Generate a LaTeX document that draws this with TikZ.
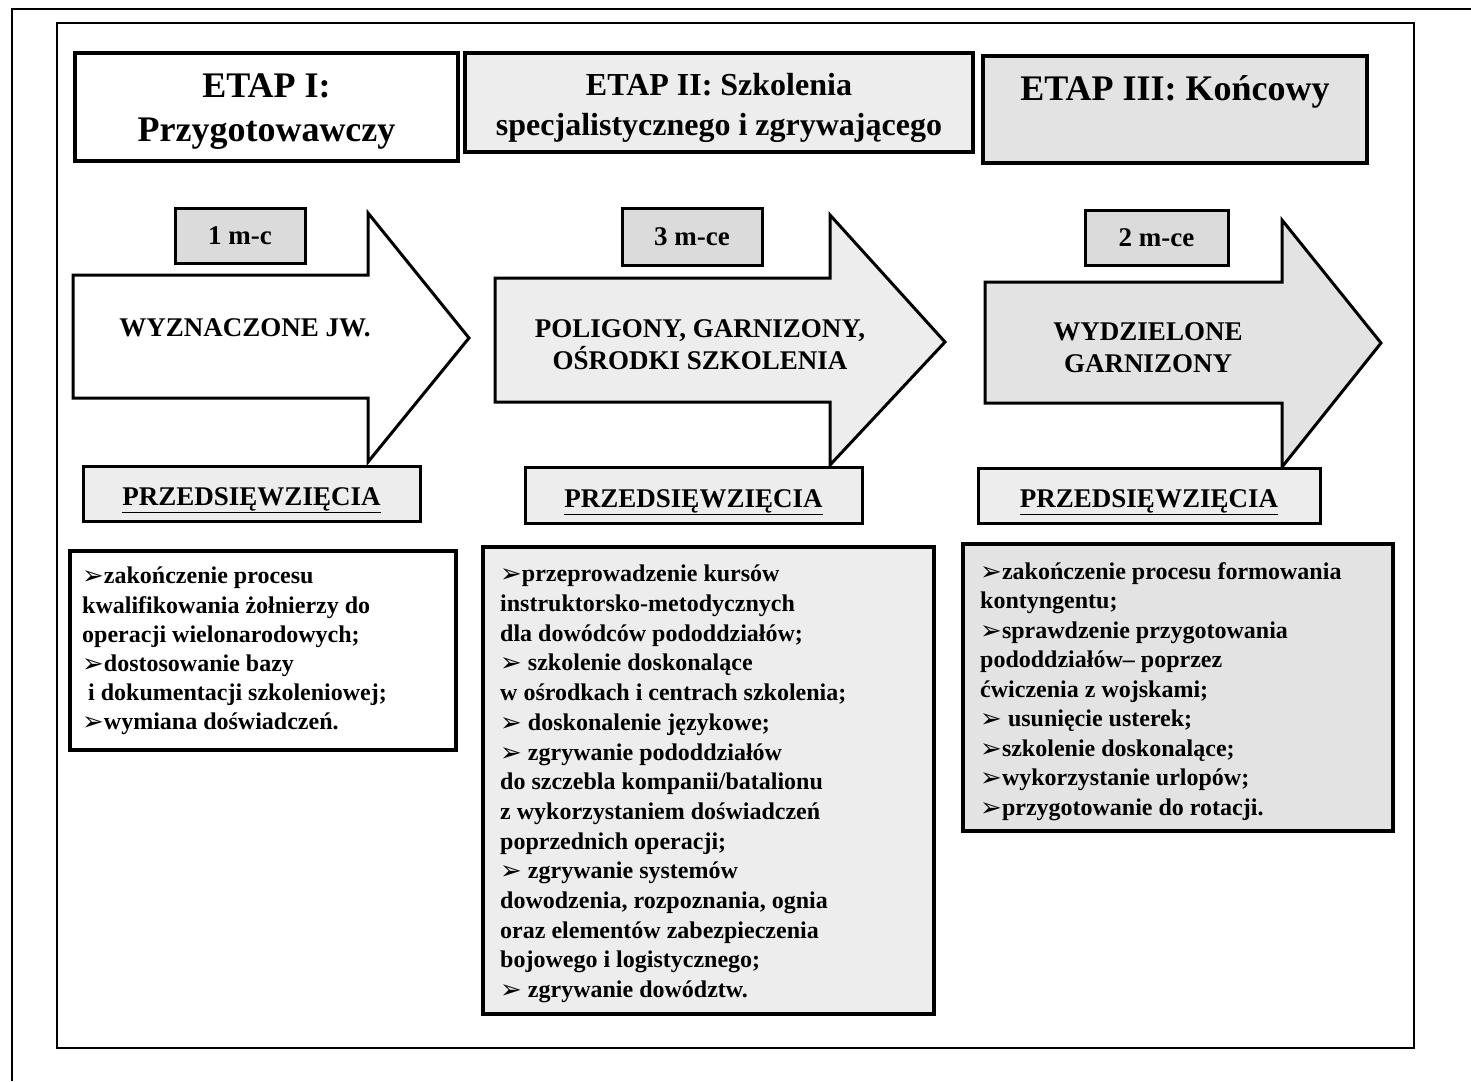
\documentclass[tikz,border=0pt]{standalone}
\usepackage{fontspec}
\setmainfont{Liberation Serif}
\newfontfamily\symfont{DejaVu Sans}
\usepackage{tikz}
\usetikzlibrary{positioning}
\definecolor{jasny}{gray}{0.93}
\definecolor{sredni}{gray}{0.89}
\definecolor{ciemny}{gray}{0.86}
\tikzset{
  etap/.style  = {rectangle, draw=black, line width=3.5pt, inner sep=0pt},
  tytul/.style = {align=center, inner sep=0pt,
                  font=\fontsize{36}{44}\selectfont\bfseries},
  czas/.style  = {rectangle, draw=black, line width=3pt, fill=ciemny,
                  font=\fontsize{27}{32}\selectfont\bfseries},
  przed/.style = {rectangle, draw=black, line width=3pt, fill=jasny,
                  text height=25pt, text depth=1pt,
                  font=\fontsize{27}{32}\selectfont\bfseries},
  lista/.style = {rectangle, draw=black, line width=3.5pt},
  wpis/.style  = {anchor=north west, align=left, inner sep=0pt,
                  font=\fontsize{24}{29.5}\selectfont\bfseries},
  strzal/.style = {draw=black, line width=3pt, line join=miter},
  napis/.style = {align=center, inner sep=0pt,
                  font=\fontsize{27}{32}\selectfont\bfseries}
}
\newcommand{\pkt}{{\symfont\fontsize{26}{26}\selectfont\raisebox{-1pt}{➢}}}

\begin{document}
\begin{tikzpicture}[x=1pt, y=-1pt]
\useasboundingbox (0,0) rectangle (1471,1081);

\draw[line width=1.5pt] (1471,9) -- (12,9) -- (12,1081);
\draw[line width=2pt] (57,23) rectangle (1414,1048);

% etapy
\node (etap1) [etap, fill=white, minimum width=383pt, minimum height=108pt]
  at (266.5,107) {};
\node (etap1txt) [tytul] at (266.5,112) {ETAP I:\\Przygotowawczy};
\node (etap2) [etap, fill=jasny, minimum width=508pt, minimum height=99pt]
  at (719,102.5) {};
\node (etap2txt) [tytul, font=\fontsize{32}{40}\selectfont\bfseries]
  at (719,108) {ETAP II: Szkolenia\\specjalistycznego i zgrywającego};
\node (etap3) [etap, fill=sredni, minimum width=384pt, minimum height=107pt]
  at (1175,109.5) {};
\node (etap3txt) [tytul] at (1175,92) {ETAP III: Końcowy};

% strzalki
\draw[strzal, fill=white] (73,275) -- (368,275) -- (368,213) -- (469,338)
  -- (368,462) -- (368,398) -- (73,398) -- cycle;
\draw[strzal, fill=jasny] (495,278) -- (830,278) -- (830,215) -- (945,342)
  -- (830,465) -- (830,402) -- (495,402) -- cycle;
\draw[strzal, fill=sredni] (985,282) -- (1282,282) -- (1282,220) -- (1381,343)
  -- (1282,467) -- (1282,403) -- (985,403) -- cycle;

\node (miejsce1) [napis] at (245,328) {WYZNACZONE JW.};
\node (miejsce2) [napis] at (700,345) {POLIGONY, GARNIZONY,\\OŚRODKI SZKOLENIA};
\node (miejsce3) [napis] at (1148,348) {WYDZIELONE\\GARNIZONY};

% czas trwania
\node (czas1) [czas, minimum width=130pt, minimum height=55pt] at (240,235.5) {1 m-c};
\node (czas2) [czas, minimum width=140pt, minimum height=57pt] at (692,236.5) {3 m-ce};
\node (czas3) [czas, minimum width=143pt, minimum height=55pt] at (1156.5,237.5) {2 m-ce};

% przedsiewziecia
\node (przed1) [przed, minimum width=337pt, minimum height=55pt] at (251.5,493.5)
  {\underline{PRZEDSIĘWZIĘCIA}};
\node (przed2) [przed, minimum width=337pt, minimum height=56pt] at (693.5,495)
  {\underline{PRZEDSIĘWZIĘCIA}};
\node (przed3) [przed, minimum width=342pt, minimum height=55pt] at (1149,495.5)
  {\underline{PRZEDSIĘWZIĘCIA}};

% listy
\node (lista1) [lista, fill=white, minimum width=386pt, minimum height=199pt]
  at (263,650.5) {};
\node (lista2) [lista, fill=jasny, minimum width=451pt, minimum height=467pt]
  at (708.5,780.5) {};
\node (lista3) [lista, fill=sredni, minimum width=430pt, minimum height=287pt]
  at (1178,687.5) {};

\node (wpis1) [wpis, font=\fontsize{24}{29.2}\selectfont\bfseries] at (82,567)
{\pkt zakończenie procesu\\
kwalifikowania żołnierzy do\\
operacji wielonarodowych;\\
\pkt dostosowanie bazy\\
\ i dokumentacji szkoleniowej;\\
\pkt wymiana doświadczeń.};

\node (wpis2) [wpis, font=\fontsize{24}{29.7}\selectfont\bfseries] at (500,565)
{\pkt przeprowadzenie kursów\\
instruktorsko-metodycznych\\
dla dowódców pododdziałów;\\
\pkt\ szkolenie doskonalące\\
w ośrodkach i centrach szkolenia;\\
\pkt\ doskonalenie językowe;\\
\pkt\ zgrywanie pododdziałów\\
do szczebla kompanii/batalionu\\
z wykorzystaniem doświadczeń\\
poprzednich operacji;\\
\pkt\ zgrywanie systemów\\
dowodzenia, rozpoznania, ognia\\
oraz elementów zabezpieczenia\\
bojowego i logistycznego;\\
\pkt\ zgrywanie dowództw.};

\node (wpis3) [wpis] at (980,562)
{\pkt zakończenie procesu formowania\\
kontyngentu;\\
\pkt sprawdzenie przygotowania\\
pododdziałów-- poprzez\\
ćwiczenia z wojskami;\\
\pkt\ usunięcie usterek;\\
\pkt szkolenie doskonalące;\\
\pkt wykorzystanie urlopów;\\
\pkt przygotowanie do rotacji.};

\end{tikzpicture}
\end{document}
